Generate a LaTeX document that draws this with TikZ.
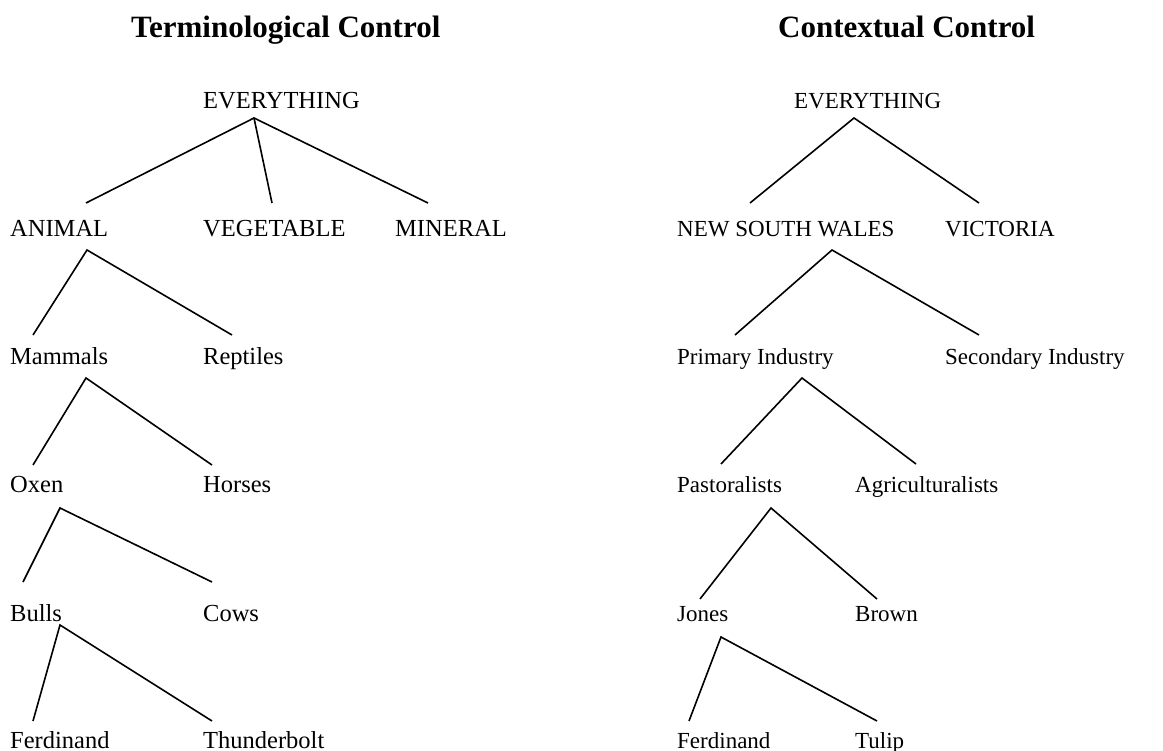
\documentclass[tikz,border=0pt]{standalone}
\usepackage{fontspec}
\setmainfont{Liberation Serif}
\usepackage{tikz}

\begin{document}
\begin{tikzpicture}[x=1pt,y=-1pt,
  term/.style={anchor=base west,inner sep=0pt,font=\fontsize{23}{27}\selectfont},
  bigterm/.style={term,font=\fontsize{24.5}{28}\selectfont},
  head/.style={anchor=base west,inner sep=0pt,font=\fontsize{31}{36}\selectfont\bfseries},
  branch/.style={line width=1.6pt}]
\useasboundingbox (0,0) rectangle (1163,751);
\node [head] (tth) at (131,38) {Terminological Control};
\node [head] (cth) at (778,38) {Contextual Control};

\node [bigterm] (tev) at (203,109) {EVERYTHING};
\node [bigterm] (an) at (10,237) {ANIMAL};
\node [bigterm] (veg) at (203,237) {VEGETABLE};
\node [bigterm] (min) at (395,237) {MINERAL};
\node [bigterm] (mam) at (10,365) {Mammals};
\node [bigterm] (rep) at (203,365) {Reptiles};
\node [bigterm] (ox) at (10,493) {Oxen};
\node [bigterm] (hor) at (203,493) {Horses};
\node [bigterm] (bul) at (10,621) {Bulls};
\node [bigterm] (cow) at (203,621) {Cows};
\node [bigterm] (tfer) at (10,748) {Ferdinand};
\node [bigterm] (thu) at (203,748) {Thunderbolt};

\draw [branch] ([shift={(76,-34)}]an.base west) -- ([shift={(51,9)}]tev.base west)
  -- ([shift={(33,-34)}]min.base west);
\draw [branch] ([shift={(51,9)}]tev.base west) -- ([shift={(69,-34)}]veg.base west);
\draw [branch] ([shift={(23,-30)}]mam.base west) -- ([shift={(77,13)}]an.base west)
  -- ([shift={(29,-30)}]rep.base west);
\draw [branch] ([shift={(23,-28)}]ox.base west) -- ([shift={(76,13)}]mam.base west)
  -- ([shift={(9,-28)}]hor.base west);
\draw [branch] ([shift={(13,-39)}]bul.base west) -- ([shift={(50,15)}]ox.base west)
  -- ([shift={(9,-39)}]cow.base west);
\draw [branch] ([shift={(23,-27)}]tfer.base west) -- ([shift={(50,4)}]bul.base west)
  -- ([shift={(9,-27)}]thu.base west);

\node [term] (cev) at (794,109) {EVERYTHING};
\node [term] (nsw) at (677,237) {NEW SOUTH WALES};
\node [term] (vic) at (945,237) {VICTORIA};
\node [term] (pri) at (677,365) {Primary Industry};
\node [term] (sec) at (945,365) {Secondary Industry};
\node [term] (pas) at (677,493) {Pastoralists};
\node [term] (agr) at (855,493) {Agriculturalists};
\node [term] (jon) at (677,621) {Jones};
\node [term] (bro) at (855,621) {Brown};
\node [term] (cfer) at (677,748) {Ferdinand};
\node [term] (tul) at (855,748) {Tulip};

\draw [branch] ([shift={(73,-34)}]nsw.base west) -- ([shift={(60,9)}]cev.base west)
  -- ([shift={(34,-34)}]vic.base west);
\draw [branch] ([shift={(58,-30)}]pri.base west) -- ([shift={(155,13)}]nsw.base west)
  -- ([shift={(34,-30)}]sec.base west);
\draw [branch] ([shift={(44,-29)}]pas.base west) -- ([shift={(125,13)}]pri.base west)
  -- ([shift={(61,-29)}]agr.base west);
\draw [branch] ([shift={(23,-22)}]jon.base west) -- ([shift={(94,15)}]pas.base west)
  -- ([shift={(22,-22)}]bro.base west);
\draw [branch] ([shift={(12,-27)}]cfer.base west) -- ([shift={(44,16)}]jon.base west)
  -- ([shift={(22,-27)}]tul.base west);
\end{tikzpicture}
\end{document}
